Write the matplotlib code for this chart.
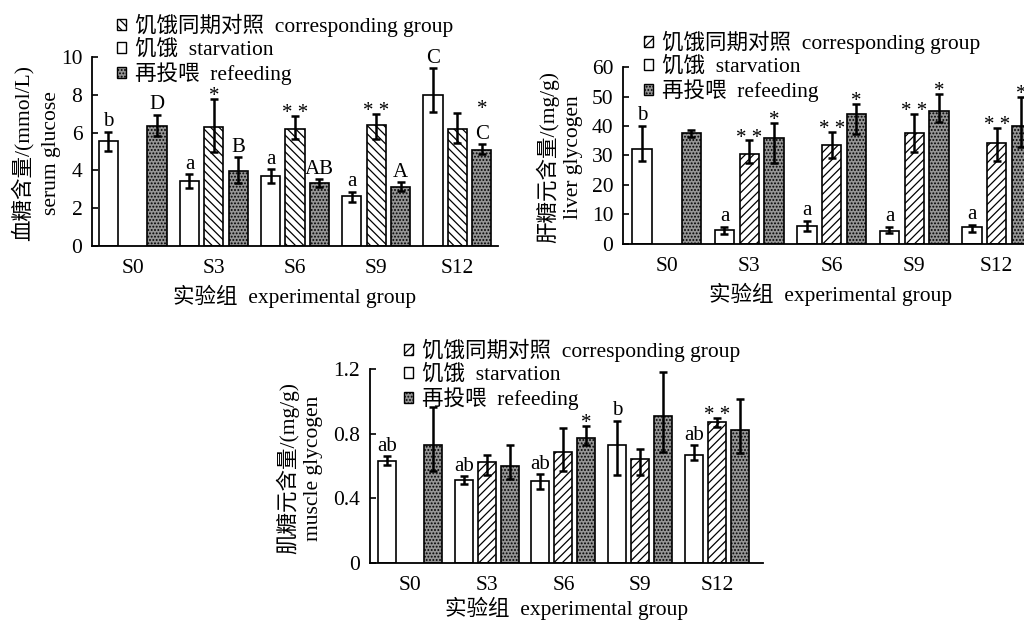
import matplotlib
matplotlib.use('Agg')
import matplotlib.pyplot as plt
import numpy as np
from matplotlib.patches import Patch

# ---------------- data ----------------
groups = ['S0', 'S3', 'S6', 'S9', 'S12']
series_names = ['饥饿同期对照  corresponding group', '饥饿  starvation', '再投喂  refeeding']

# serum glucose (mmol/L): means, error-bar low ends, error-bar high ends
glu_starv = [5.57, 3.46, 3.70, 2.66, 7.99]
glu_starv_lo = [5.04, 3.05, 3.35, 2.34, 7.10]
glu_starv_hi = [6.05, 3.79, 4.06, 2.86, 9.40]
glu_corr = [np.nan, 6.28, 6.19, 6.40, 6.19]
glu_corr_lo = [np.nan, 4.99, 5.64, 5.64, 5.43]
glu_corr_hi = [np.nan, 7.76, 6.86, 6.97, 7.02]
glu_refeed = [6.35, 3.97, 3.33, 3.10, 5.08]
glu_refeed_lo = [5.82, 3.35, 3.14, 2.91, 4.87]
glu_refeed_hi = [6.93, 4.69, 3.53, 3.37, 5.38]
glu_starv_lab = ['b', 'a', 'a', 'a', 'C']
glu_corr_lab = ['', '*', '**', '**', '']
glu_refeed_lab = ['D', 'B', 'AB', 'A', '*\nC']

# liver glycogen (mg/g)
liv_starv = [32.2, 4.75, 6.1, 4.5, 5.7]
liv_starv_lo = [28.2, 3.4, 4.5, 3.6, 4.2]
liv_starv_hi = [40.1, 5.9, 7.9, 5.9, 6.5]
liv_corr = [np.nan, 30.4, 33.5, 37.6, 34.3]
liv_corr_lo = [np.nan, 27.6, 29.1, 31.3, 28.3]
liv_corr_hi = [np.nan, 35.1, 38.1, 44.1, 39.2]
liv_refeed = [37.7, 36.1, 44.0, 45.2, 40.0]
liv_refeed_lo = [36.3, 27.6, 37.2, 41.2, 32.8]
liv_refeed_hi = [38.6, 41.0, 47.5, 50.9, 50.0]
liv_starv_lab = ['b', 'a', 'a', 'a', 'a']
liv_corr_lab = ['', '**', '**', '**', '**']
liv_refeed_lab = ['', '*', '*', '*', '*']

# muscle glycogen (mg/g)
mus_starv = [0.634, 0.515, 0.506, 0.731, 0.669]
mus_starv_lo = [0.607, 0.486, 0.459, 0.546, 0.638]
mus_starv_hi = [0.659, 0.537, 0.548, 0.881, 0.727]
mus_corr = [np.nan, 0.624, 0.685, 0.646, 0.870]
mus_corr_lo = [np.nan, 0.546, 0.568, 0.546, 0.840]
mus_corr_hi = [np.nan, 0.669, 0.838, 0.708, 0.897]
mus_refeed = [0.727, 0.603, 0.774, 0.907, 0.823]
mus_refeed_lo = [0.568, 0.521, 0.727, 0.685, 0.679]
mus_refeed_hi = [0.967, 0.731, 0.846, 1.179, 1.012]
mus_starv_lab = ['ab', 'ab', 'ab', 'b', 'ab']
mus_corr_lab = ['', '', '', '', '**']
mus_refeed_lab = ['', '', '*', '', '']

# ---------------- style ----------------
plt.rcParams['font.family'] = ['Liberation Serif', 'Noto Sans CJK SC']
plt.rcParams['font.size'] = 15
plt.rcParams['hatch.linewidth'] = 0.9
plt.rcParams['axes.linewidth'] = 1.3
plt.rcParams['axes.unicode_minus'] = False

REFEED_FC = '#959595'
W = 0.235
OFF = 0.30
ERR_KW = dict(ecolor='black', elinewidth=1.8, capsize=3, capthick=1.8)

fig = plt.figure(figsize=(10.24, 6.24), dpi=100)


def px_rect(left, top, right, bottom):
    return [left / 1024, 1 - bottom / 624, (right - left) / 1024, (bottom - top) / 624]


def add_labels(ax, xs, tops, labels):
    for x, t, lab in zip(xs, tops, labels):
        if not lab or np.isnan(t):
            continue
        lines = lab.split('\n')[::-1]
        off = 0.0
        for ln in lines:
            if '*' in ln:
                dy = off - 1.5 if off == 0 else off + 2
            else:
                dy = off + 4
            ax.annotate(ln.replace('**', '* *'), (x, t), xytext=(0, dy), textcoords='offset points',
                        ha='center', va='baseline', fontsize=15)
            off = dy + 16


def draw_series(ax, xs, vals, lo, hi, **kw):
    vals = np.asarray(vals, float)
    lo = np.asarray(lo, float)
    hi = np.asarray(hi, float)
    m = ~np.isnan(vals)
    yerr = np.vstack([vals[m] - lo[m], hi[m] - vals[m]])
    ax.bar(xs[m], vals[m], W, yerr=yerr, error_kw=ERR_KW, edgecolor='black', linewidth=1.2, zorder=2, **kw)


def panel(rect, xlim, ylim, yticks, ytick_labels, hatch, data, labels, ylabel, ylab_x, ylab_ls, leg_anchor,
          xlab_pad=4.5):
    ax = fig.add_axes(rect)
    x = np.arange(len(groups))
    starv, starv_lo, starv_hi, corr, corr_lo, corr_hi, ref, ref_lo, ref_hi = data
    draw_series(ax, x - OFF, starv, starv_lo, starv_hi, color='white')
    draw_series(ax, x, corr, corr_lo, corr_hi, color='white', hatch=hatch)
    draw_series(ax, x + OFF, ref, ref_lo, ref_hi, color=REFEED_FC, hatch='.....')
    add_labels(ax, x - OFF, starv_hi, labels[0])
    add_labels(ax, x, corr_hi, labels[1])
    add_labels(ax, x + OFF, ref_hi, labels[2])
    ax.set_xlim(*xlim)
    ax.set_ylim(*ylim)
    ax.set_yticks(yticks)
    ax.set_yticklabels(ytick_labels)
    ax.set_xticks(x)
    ax.set_xticklabels(groups)
    ax.spines['top'].set_visible(False)
    ax.spines['right'].set_visible(False)
    ax.tick_params(axis='y', direction='in', length=4, width=1.2, pad=7, labelsize=15.5)
    ax.tick_params(axis='x', length=0, pad=9.5, labelsize=15.5)
    ax.set_xlabel('实验组  experimental group', fontsize=15.5, labelpad=xlab_pad)
    ax.set_ylabel(ylabel, fontsize=15.5, va='center', ha='center', linespacing=ylab_ls)
    ax.yaxis.set_label_coords(ylab_x, 0.49)
    handles = [Patch(facecolor='white', edgecolor='black', hatch=hatch, linewidth=1.0),
               Patch(facecolor='white', edgecolor='black', linewidth=1.0),
               Patch(facecolor=REFEED_FC, edgecolor='black', hatch='.....', linewidth=1.0)]
    leg = ax.legend(handles, series_names, loc='upper left', bbox_to_anchor=leg_anchor,
                    bbox_transform=fig.transFigure, frameon=False, borderpad=0, borderaxespad=0,
                    handlelength=0.42, handleheight=0.42, handletextpad=0.4, labelspacing=0.12,
                    fontsize=15.5)
    leg.set_zorder(5)
    return ax


# serum glucose panel
panel(px_rect(92, 57, 498, 246), (-0.5, 4.5), (0, 10), [0, 2, 4, 6, 8, 10], ['0', '2', '4', '6', '8', '10'],
      '\\\\\\\\',
      (glu_starv, glu_starv_lo, glu_starv_hi, glu_corr, glu_corr_lo, glu_corr_hi, glu_refeed, glu_refeed_lo, glu_refeed_hi),
      (glu_starv_lab, glu_corr_lab, glu_refeed_lab),
      '血糖含量/(mmol/L)\nserum glucose', -0.138, 1.6, (117 / 1024, 1 - 14 / 624))

# liver glycogen panel
panel(px_rect(623, 67, 1038, 244), (-0.53, 4.5), (0, 60), [0, 10, 20, 30, 40, 50, 60],
      ['0', '10', '20', '30', '40', '50', '60'],
      '////',
      (liv_starv, liv_starv_lo, liv_starv_hi, liv_corr, liv_corr_lo, liv_corr_hi, liv_refeed, liv_refeed_lo, liv_refeed_hi),
      (liv_starv_lab, liv_corr_lab, liv_refeed_lab),
      '肝糖元含量/(mg/g)\nliver glycogen', -0.153, 1.4, (644 / 1024, 1 - 31 / 624))

# muscle glycogen panel
panel(px_rect(370, 369, 763, 563), (-0.52, 4.6), (0, 1.2), [0, 0.4, 0.8, 1.2], ['0', '0.4', '0.8', '1.2'],
      '////',
      (mus_starv, mus_starv_lo, mus_starv_hi, mus_corr, mus_corr_lo, mus_corr_hi, mus_refeed, mus_refeed_lo, mus_refeed_hi),
      (mus_starv_lab, mus_corr_lab, mus_refeed_lab),
      '肌糖元含量/(mg/g)\nmuscle glycogen', -0.18, 1.35, (404 / 1024, 1 - 339 / 624), xlab_pad=1.0)

fig.savefig('out.png', dpi=100)
